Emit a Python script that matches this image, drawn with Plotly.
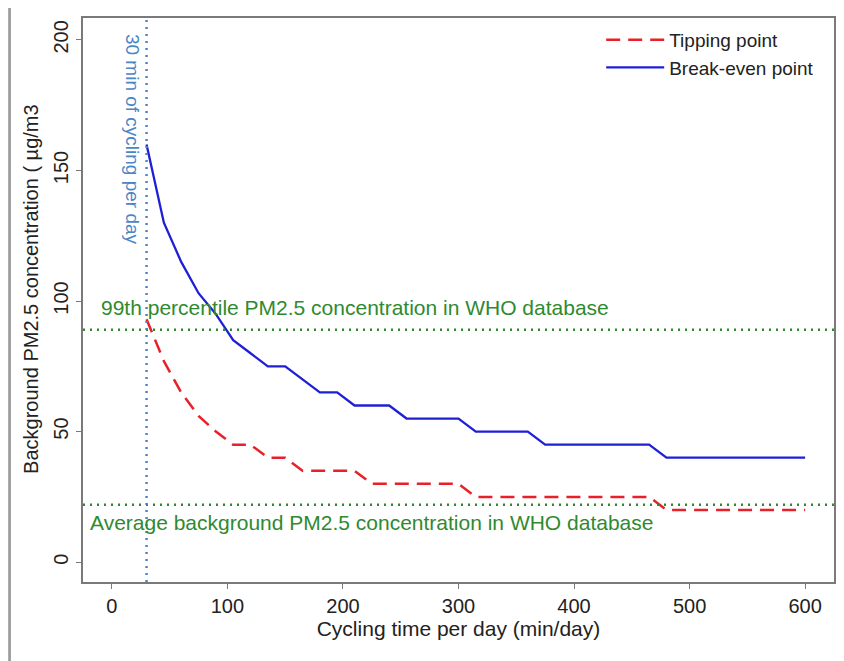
import plotly.graph_objects as go

# cycling time (min/day), 15-min steps
minutes = [30, 45, 60, 75, 90, 105, 120, 135, 150, 165, 180, 195, 210, 225, 240, 255, 270, 285,
           300, 315, 330, 345, 360, 375, 390, 405, 420, 435, 450, 465, 480, 495, 510, 525, 540,
           555, 570, 585, 600]
tipping = [93, 77, 65, 56, 50, 45, 45, 40, 40, 35, 35, 35, 35, 30, 30, 30, 30, 30,
           30, 25, 25, 25, 25, 25, 25, 25, 25, 25, 25, 25, 20, 20, 20, 20, 20,
           20, 20, 20, 20]
break_even = [160, 130, 115, 103, 95, 85, 80, 75, 75, 70, 65, 65, 60, 60, 60, 55, 55, 55,
              55, 50, 50, 50, 50, 45, 45, 45, 45, 45, 45, 45, 40, 40, 40, 40, 40,
              40, 40, 40, 40]

who_p99 = 89
who_avg = 22
ref_minutes = 30

FONT = "Arial, Liberation Sans, sans-serif"
GREEN = "#2f8a2f"
STEEL = "#4a86c5"

fig = go.Figure()
fig.add_trace(go.Scatter(x=minutes, y=tipping, mode="lines", name="Tipping point",
                         line=dict(color="#e8202a", width=2.5, dash="14px,8px")))
fig.add_trace(go.Scatter(x=minutes, y=break_even, mode="lines", name="Break-even point",
                         line=dict(color="#1f1fd6", width=2.3)))

# reference lines
for yv in [who_p99, who_avg]:
    fig.add_shape(type="line", xref="paper", x0=0, x1=1, yref="y", y0=yv, y1=yv,
                  line=dict(color=GREEN, width=2.5, dash="2px,5px"))
fig.add_shape(type="line", xref="x", x0=ref_minutes, x1=ref_minutes, yref="paper", y0=0, y1=1,
              line=dict(color=STEEL, width=2.5, dash="2px,5px"))

annos = [
    dict(x=-11, y=97.5, text="99th percentile PM2.5 concentration in WHO database",
         xanchor="left", yanchor="middle", showarrow=False, font=dict(color=GREEN, size=21, family=FONT)),
    dict(x=-21, y=15.3, text="Average background PM2.5 concentration in WHO database",
         xanchor="left", yanchor="middle", showarrow=False, font=dict(color=GREEN, size=21, family=FONT)),
    dict(x=18, y=203, text="30 min of cycling per day", textangle=90,
         xanchor="center", yanchor="top", showarrow=False, font=dict(color=STEEL, size=19, family=FONT)),
    dict(xref="paper", yref="paper", x=-0.069, y=0.52, text="Background PM2.5 concentration ( µg/m3",
         textangle=-90, xanchor="center", yanchor="middle", showarrow=False,
         font=dict(color="#222", size=20, family=FONT)),
]

# screenshot-style shadow on the left edge
fig.add_shape(type="rect", xref="paper", yref="paper", x0=-0.0996, x1=-0.0960, y0=-0.2, y1=1.02,
              fillcolor="#9a9a9a", line=dict(width=0), layer="below")

axis_common = dict(showline=True, linecolor="#7a7a7a", linewidth=1.5, mirror=True,
                   ticks="outside", ticklen=5, tickcolor="#7a7a7a", showgrid=False, zeroline=False,
                   tickfont=dict(size=20, color="#222", family=FONT))

# page has an 8px body margin, so the figure is drawn 8px smaller and offset
fig.update_layout(
    width=836, height=653,
    margin=dict(l=75, r=8, t=9, b=79),
    paper_bgcolor="white", plot_bgcolor="white",
    font=dict(family=FONT, color="#222"),
    xaxis=dict(range=[-25, 625], tickvals=[0, 100, 200, 300, 400, 500, 600],
               title=dict(text="Cycling time per day (min/day)", font=dict(size=21), standoff=0),
               **axis_common),
    yaxis=dict(range=[-7.6, 208.4], tickvals=[0, 50, 100, 150, 200], tickangle=-90,
               **axis_common),
    legend=dict(x=0.69, y=0.995, xanchor="left", yanchor="top", bgcolor="rgba(0,0,0,0)",
                font=dict(size=19, family=FONT, color="#222"), tracegroupgap=0, itemwidth=58),
    annotations=annos,
    showlegend=True,
)

fig.write_html("out.html")
